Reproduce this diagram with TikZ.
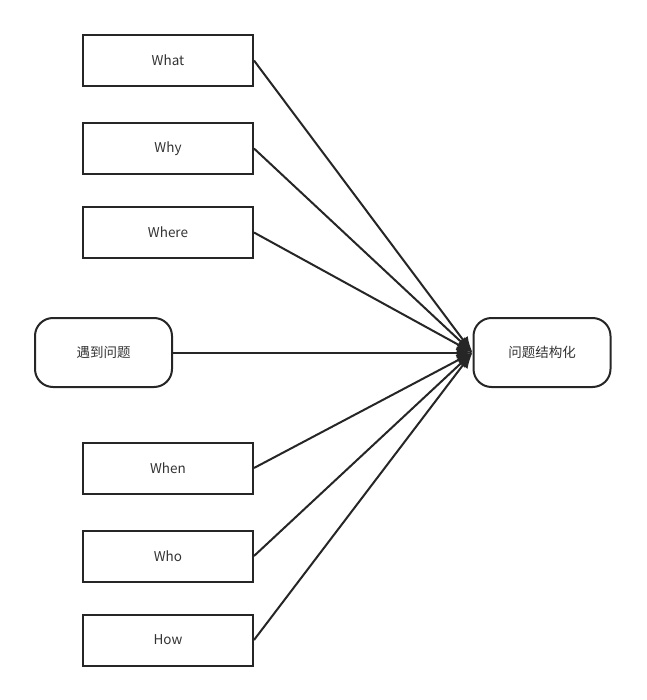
\documentclass[tikz,border=0pt]{standalone}
\usepackage{fontspec}
\setmainfont{Noto Sans CJK SC}
\usetikzlibrary{arrows.meta}
\begin{document}
\begin{tikzpicture}[x=1pt,y=-1pt,
  box/.style={draw=black!85,line width=2pt,minimum width=170pt,minimum height=51pt,inner sep=0pt,font=\fontsize{13.5}{16}\selectfont,text=black!80},
  term/.style={box,rounded corners=18pt,minimum width=137pt,minimum height=69pt},
  edge/.style={draw=black!85,line width=2pt,-{Latex[length=16pt,width=12pt]}}]
\useasboundingbox (0,0) rectangle (646,700);
\node[box] (what) at (168,60.5) {What};
\node[box] (why) at (168,148.5) {Why};
\node[box] (where) at (168,232.5) {Where};
\node[box] (when) at (168,468) {When};
\node[box] (who) at (168,556) {Who};
\node[box] (how) at (168,640) {How};
\node[term] (start) at (103.5,352.5) {遇到问题};
\node[term] (goal) at (542,352.5) {问题结构化};
\foreach \n in {what,why,where,start,when,who,how}
  \draw[edge] (\n.east) -- (goal.west);
\end{tikzpicture}
\end{document}
